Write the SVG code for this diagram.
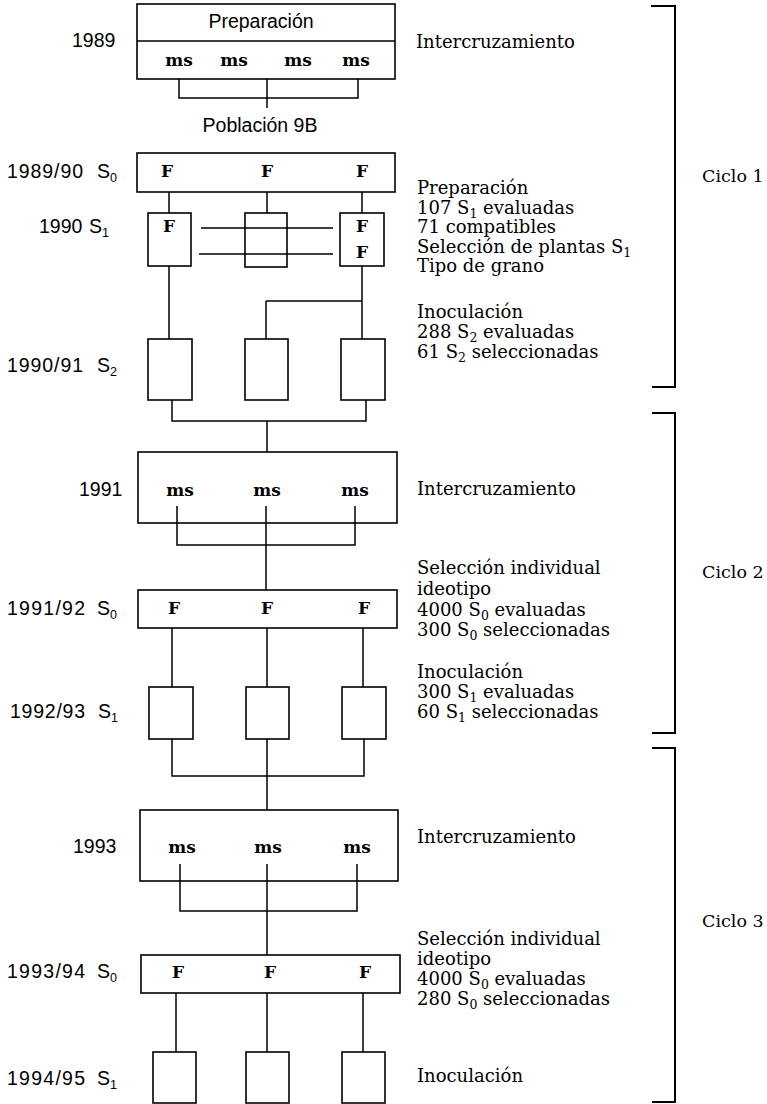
<svg xmlns="http://www.w3.org/2000/svg" width="767" height="1104" viewBox="0 0 767 1104">
<style>
.box{fill:none;stroke:#000;stroke-width:1.6}
.c{fill:none;stroke:#000;stroke-width:1.5}
.br{fill:none;stroke:#000;stroke-width:2}
.yr{font-family:"Liberation Sans",Arial,sans-serif;font-size:19.5px;fill:#000}
.sn{font-family:"Liberation Sans",Arial,sans-serif;font-size:19.5px;fill:#000;text-anchor:middle}
.ms{font-family:"DejaVu Serif",serif;font-weight:bold;font-size:17px;fill:#000;text-anchor:middle}
.nt{font-family:"DejaVu Serif",serif;font-size:18px;fill:#000}
.cy{font-family:"DejaVu Serif",serif;font-size:17.5px;fill:#000}
.sb{font-size:12.5px}
</style>
<rect width="767" height="1104" fill="#fff"/>

<g id="connectors">
<path class="c" d="M179,79V98H358V79M267,79V108"/>
<path class="c" d="M169,192V213M267,192V213M362,192V213"/>
<path class="c" d="M201,228H333M199,254H333"/>
<path class="c" d="M169,266V339M362,266V339M266,301H362M266,301V339"/>
<path class="c" d="M172,400V421H366V400M267,421V452"/>
<path class="c" d="M177,506V545H355V506M266,506V590"/>
<path class="c" d="M172,628V687M267,628V687M363,628V687"/>
<path class="c" d="M172,739V776H364V739M267,739V810"/>
<path class="c" d="M180,864V911H357V864M267,864V955"/>
<path class="c" d="M176,993V1052M267,993V1052M363,993V1052"/>
</g>

<g id="brackets">
<path class="br" d="M651,6H675V387H652"/>
<path class="br" d="M652,413H675V733H652"/>
<path class="br" d="M652,748H675V1102H652"/>
<text class="cy" x="702" y="182">Ciclo 1</text>
<text class="cy" x="702" y="578">Ciclo 2</text>
<text class="cy" x="702" y="927">Ciclo 3</text>
</g>

<g id="n1989">
<rect class="box" x="137" y="4" width="258" height="75"/>
<line class="c" x1="137" y1="41" x2="395" y2="41"/>
<text class="sn" x="261" y="28" font-size="20">Preparación</text>
<text class="ms" x="179" y="66">ms</text>
<text class="ms" x="234" y="66">ms</text>
<text class="ms" x="298" y="66">ms</text>
<text class="ms" x="356" y="66">ms</text>
<text class="yr" x="72" y="47">1989</text>
<text class="nt" x="416" y="48">Intercruzamiento</text>
</g>

<g id="poblacion">
<text class="sn" x="260" y="132" font-size="19">Población 9B</text>
</g>

<g id="n1989-90">
<rect class="box" x="137" y="153" width="258" height="39"/>
<text class="ms" x="167" y="177">F</text>
<text class="ms" x="267" y="177">F</text>
<text class="ms" x="362" y="177">F</text>
<text class="yr" x="7" y="178" textLength="76" lengthAdjust="spacing">1989/90</text>
<text class="yr" x="97" y="178">S<tspan class="sb" dy="4">0</tspan></text>
</g>

<g id="n1990">
<rect class="box" x="148" y="213" width="43" height="53"/>
<rect class="box" x="245" y="213" width="42" height="54"/>
<rect class="box" x="340" y="213" width="44" height="53"/>
<text class="ms" x="169" y="232">F</text>
<text class="ms" x="362" y="232">F</text>
<text class="ms" x="362" y="258">F</text>
<text class="yr" x="39" y="233">1990</text>
<text class="yr" x="89" y="233">S<tspan class="sb" dy="4">1</tspan></text>
<text class="nt" x="417" y="194">Preparación</text>
<text class="nt" x="417" y="214">107 S<tspan class="sb" dy="4">1</tspan><tspan dy="-4"> evaluadas</tspan></text>
<text class="nt" x="417" y="233">71 compatibles</text>
<text class="nt" x="417" y="253">Selección de plantas S<tspan class="sb" dy="4">1</tspan></text>
<text class="nt" x="417" y="272">Tipo de grano</text>
</g>

<g id="n1990-91">
<rect class="box" x="148" y="339" width="44" height="61"/>
<rect class="box" x="245" y="339" width="43" height="61"/>
<rect class="box" x="341" y="339" width="44" height="61"/>
<text class="yr" x="7" y="372" textLength="76" lengthAdjust="spacing">1990/91</text>
<text class="yr" x="97" y="372">S<tspan class="sb" dy="4">2</tspan></text>
<text class="nt" x="417" y="318">Inoculación</text>
<text class="nt" x="417" y="338">288 S<tspan class="sb" dy="4">2</tspan><tspan dy="-4"> evaluadas</tspan></text>
<text class="nt" x="417" y="358">61 S<tspan class="sb" dy="4">2</tspan><tspan dy="-4"> seleccionadas</tspan></text>
</g>

<g id="n1991">
<rect class="box" x="138" y="452" width="259" height="71"/>
<text class="ms" x="180" y="496">ms</text>
<text class="ms" x="267" y="496">ms</text>
<text class="ms" x="355" y="496">ms</text>
<text class="yr" x="79" y="496">1991</text>
<text class="nt" x="417" y="495">Intercruzamiento</text>
</g>

<g id="n1991-92">
<rect class="box" x="138" y="590" width="259" height="38"/>
<text class="ms" x="174" y="614">F</text>
<text class="ms" x="267" y="614">F</text>
<text class="ms" x="364" y="614">F</text>
<text class="yr" x="7" y="615" textLength="78" lengthAdjust="spacing">1991/92</text>
<text class="yr" x="97" y="615">S<tspan class="sb" dy="4">0</tspan></text>
<text class="nt" x="417" y="574">Selección individual</text>
<text class="nt" x="417" y="595">ideotipo</text>
<text class="nt" x="417" y="616">4000 S<tspan class="sb" dy="4">0</tspan><tspan dy="-4"> evaluadas</tspan></text>
<text class="nt" x="417" y="636">300 S<tspan class="sb" dy="4">0</tspan><tspan dy="-4"> seleccionadas</tspan></text>
</g>

<g id="n1992-93">
<rect class="box" x="149" y="687" width="44" height="52"/>
<rect class="box" x="246" y="687" width="43" height="52"/>
<rect class="box" x="342" y="687" width="44" height="52"/>
<text class="yr" x="10" y="718" textLength="75" lengthAdjust="spacing">1992/93</text>
<text class="yr" x="98" y="718">S<tspan class="sb" dy="4">1</tspan></text>
<text class="nt" x="417" y="678">Inoculación</text>
<text class="nt" x="417" y="698">300 S<tspan class="sb" dy="4">1</tspan><tspan dy="-4"> evaluadas</tspan></text>
<text class="nt" x="417" y="718">60 S<tspan class="sb" dy="4">1</tspan><tspan dy="-4"> seleccionadas</tspan></text>
</g>

<g id="n1993">
<rect class="box" x="140" y="810" width="258" height="71"/>
<text class="ms" x="182" y="853">ms</text>
<text class="ms" x="268" y="853">ms</text>
<text class="ms" x="357" y="853">ms</text>
<text class="yr" x="73" y="853">1993</text>
<text class="nt" x="417" y="843">Intercruzamiento</text>
</g>

<g id="n1993-94">
<rect class="box" x="141" y="955" width="259" height="38"/>
<text class="ms" x="178" y="978">F</text>
<text class="ms" x="270" y="978">F</text>
<text class="ms" x="365" y="978">F</text>
<text class="yr" x="7" y="978" textLength="78" lengthAdjust="spacing">1993/94</text>
<text class="yr" x="97" y="978">S<tspan class="sb" dy="4">0</tspan></text>
<text class="nt" x="417" y="945">Selección individual</text>
<text class="nt" x="417" y="965">ideotipo</text>
<text class="nt" x="417" y="985">4000 S<tspan class="sb" dy="4">0</tspan><tspan dy="-4"> evaluadas</tspan></text>
<text class="nt" x="417" y="1005">280 S<tspan class="sb" dy="4">0</tspan><tspan dy="-4"> seleccionadas</tspan></text>
</g>

<g id="n1994-95">
<rect class="box" x="153" y="1052" width="43" height="51"/>
<rect class="box" x="246" y="1052" width="43" height="51"/>
<rect class="box" x="342" y="1052" width="43" height="51"/>
<text class="yr" x="7" y="1085" textLength="78" lengthAdjust="spacing">1994/95</text>
<text class="yr" x="97" y="1085">S<tspan class="sb" dy="4">1</tspan></text>
<text class="nt" x="417" y="1082">Inoculación</text>
</g>
</svg>
